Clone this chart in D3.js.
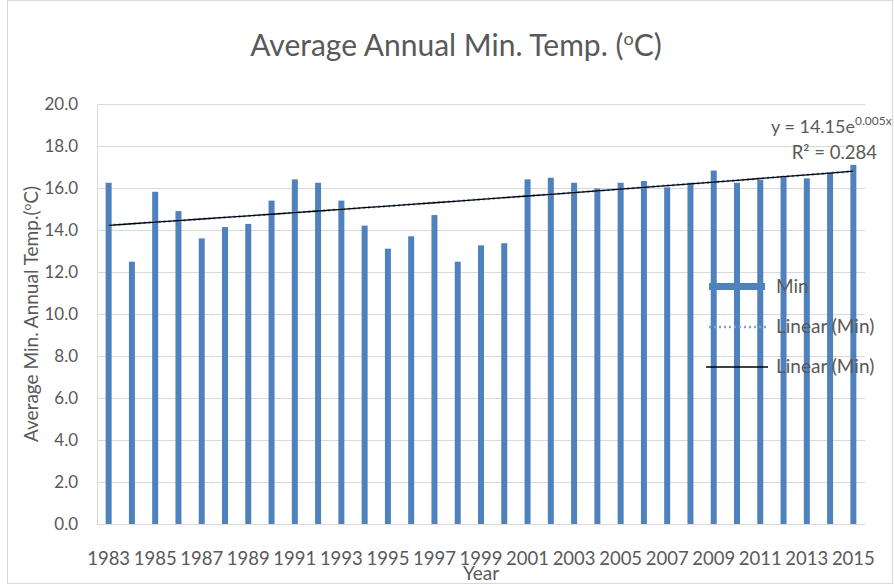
<!DOCTYPE html>
<html>
<head>
<meta charset="utf-8">
<title>Average Annual Min. Temp.</title>
<script src="https://cdn.jsdelivr.net/npm/d3@7"></script>
<style>
  body { margin: 0; background: #fff; }
  text { font-family: Lato, "Open Sans", sans-serif; fill: #595959; }
  .grid line { stroke: #d9d9d9; stroke-width: 1; }
</style>
</head>
<body>
<svg id="chart" width="894" height="584"></svg>
<script>
var years = ['1983','1984','1985','1986','1987','1988','1989','1990','1991','1992','1993',
  '1994','1995','1996','1997','1998','1999','2000','2001','2002','2003','2004','2005',
  '2006','2007','2008','2009','2010','2011','2012','2013','2014','2015'];
var minTemp = [16.25, 12.49, 15.82, 14.90, 13.60, 14.14, 14.29, 15.40, 16.41, 16.25, 15.40,
  14.21, 13.11, 13.70, 14.71, 12.49, 13.27, 13.37, 16.41, 16.49, 16.25, 15.98, 16.25,
  16.33, 16.03, 16.25, 16.83, 16.25, 16.38, 16.57, 16.46, 16.73, 17.10];
var yTicks = [0, 2, 4, 6, 8, 10, 12, 14, 16, 18, 20];
var xTickLabels = years.filter((d, i) => i % 2 == 0);
var legendLabels = ['Min', 'Linear (Min)', 'Linear (Min)'];
// trendline y = a * e^(b x), x = 1..n (coefficients as shown on the chart)
var trendA = 14.15, trendB = 0.0052;

var svg = d3.select('#chart');
var pLeft = 97, pRight = 865, pTop = 104, pBottom = 524;

// chart border
svg.append('rect')
  .attr('x', 7.5).attr('y', 0.5).attr('width', 885).attr('height', 583)
  .attr('fill', 'none').attr('stroke', '#d9d9d9');

var x = d3.scaleBand().domain(years).range([pLeft, pRight]);
var y = d3.scaleLinear().domain([0, 20]).range([pBottom, pTop]);

// gridlines
svg.append('g').attr('class', 'grid')
  .selectAll('line').data(yTicks).enter().append('line')
  .attr('x1', pLeft).attr('x2', pRight)
  .attr('y1', d => Math.round(y(d)) + 0.5).attr('y2', d => Math.round(y(d)) + 0.5);
svg.append('line')
  .attr('x1', pLeft + 0.5).attr('x2', pLeft + 0.5).attr('y1', pTop).attr('y2', pBottom)
  .attr('stroke', '#d9d9d9');

// y tick labels
svg.append('g').selectAll('text').data(yTicks).enter().append('text')
  .attr('x', 78).attr('y', d => y(d) + 6)
  .attr('text-anchor', 'end')
  .style('font-size', '17px')
  .text(d => d.toFixed(1));

// x tick labels
svg.append('g').selectAll('text').data(xTickLabels).enter().append('text')
  .attr('x', d => x(d) + x.bandwidth() / 2)
  .attr('y', 565)
  .attr('text-anchor', 'middle')
  .style('font-size', '18.5px')
  .text(d => d);

// bars
var barW = 6;
svg.append('g').selectAll('rect').data(minTemp).enter().append('rect')
  .attr('x', (d, i) => x(years[i]) + x.bandwidth() / 2 - barW / 2)
  .attr('y', d => y(d))
  .attr('width', barW)
  .attr('height', d => y(0) - y(d))
  .attr('fill', '#4f81bd');

// trendlines
var xs = d3.range(1, minTemp.length + 1);
var cx = i => x(years[i]) + x.bandwidth() / 2;
var trendPts = xs.map((v, i) => [cx(i), y(trendA * Math.exp(trendB * v))]);
var line = d3.line();

svg.append('path')
  .attr('d', line(trendPts))
  .attr('fill', 'none').attr('stroke', '#7aa6dc').attr('stroke-width', 2.5)
  .attr('stroke-dasharray', '2,3');
svg.append('path')
  .attr('d', line(trendPts))
  .attr('fill', 'none').attr('stroke', '#000').attr('stroke-width', 1.3);

// trend equation
var eq = svg.append('text').attr('x', 771).attr('y', 133).style('font-size', '18px');
eq.append('tspan').text('y = 14.15e');
eq.append('tspan').attr('dy', -8).style('font-size', '12px').text('0.005x');
svg.append('text').attr('x', 877).attr('y', 159).attr('text-anchor', 'end')
  .style('font-size', '18.5px').text('R² = 0.284');

// legend
var lg = svg.append('g');
lg.append('rect').attr('x', 709).attr('y', 283).attr('width', 56).attr('height', 7).attr('fill', '#4f81bd');
lg.append('line').attr('x1', 709).attr('x2', 766).attr('y1', 327).attr('y2', 327)
  .attr('stroke', '#7aa6dc').attr('stroke-width', 2.5).attr('stroke-dasharray', '2,3');
lg.append('line').attr('x1', 706).attr('x2', 768).attr('y1', 367).attr('y2', 367)
  .attr('stroke', '#000').attr('stroke-width', 1.3);
lg.selectAll('text').data(legendLabels).enter().append('text')
  .attr('x', 776).attr('y', (d, i) => 293 + i * 40)
  .style('font-size', '19px')
  .text(d => d);

// title
var title = svg.append('text').attr('x', 456).attr('y', 56).attr('text-anchor', 'middle')
  .style('font-size', '30px');
title.append('tspan').text('Average Annual Min. Temp. (');
title.append('tspan').attr('dy', -11).style('font-size', '18px').text('o');
title.append('tspan').attr('dy', 11).text('C)');

// axis titles
svg.append('text').attr('x', (pLeft + pRight) / 2).attr('y', 580).attr('text-anchor', 'middle')
  .style('font-size', '19px').text('Year');
var yt = svg.append('text')
  .attr('transform', 'translate(38,' + (pTop + pBottom) / 2 + ') rotate(-90)')
  .attr('text-anchor', 'middle')
  .style('font-size', '19px');
yt.append('tspan').text('Average Min. Annual Temp.(');
yt.append('tspan').attr('dy', -7).style('font-size', '12px').text('o');
yt.append('tspan').attr('dy', 7).text('C)');
</script>
</body>
</html>
